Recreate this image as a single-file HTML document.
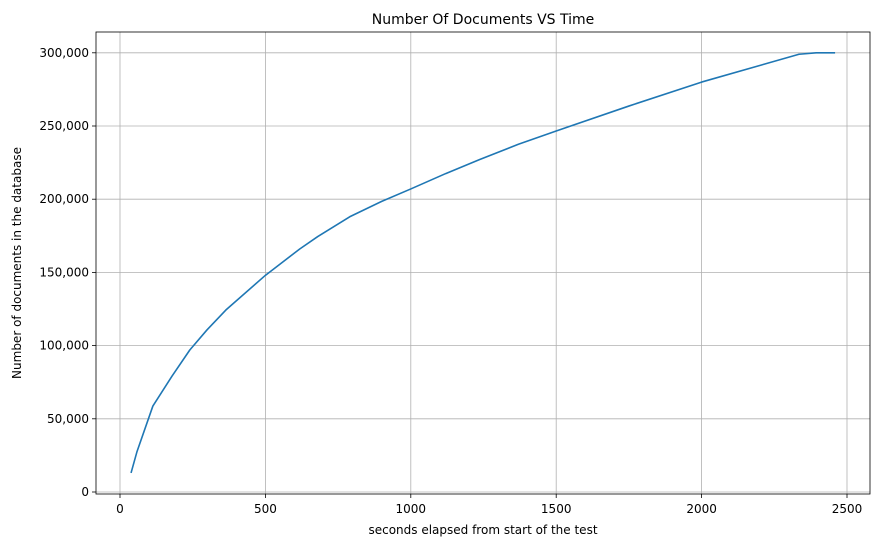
<!DOCTYPE html>
<html><head><meta charset="utf-8"><style>
body{margin:0;background:#fff;font-family:"Liberation Sans","DejaVu Sans",sans-serif;}
svg text{font-family:"DejaVu Sans","Liberation Sans",sans-serif;}
</style></head><body>
<svg id="chart" width="881" height="547" xmlns="http://www.w3.org/2000/svg"></svg>
<script>
const xTicks=[0,500,1000,1500,2000,2500];
const yTicks=[0,50000,100000,150000,200000,250000,300000];
const times=[38,58,113,179,240,299,364,500,618,680,790,900,1000,1120,1236,1370,1500,1751,2000,2335,2394,2459];
const docs=[13000,27300,58700,79200,97000,110700,124300,148000,166000,174500,188000,198500,207000,217500,227000,237500,246600,263700,280000,299000,300000,300000];
const L=96,R=870,T=32,B=494;
function xs(v){return 120+v*(145.4/500);}
function ys(v){return 492-v*(73.2/50000);}
const svg=document.getElementById('chart');
const NS='http://www.w3.org/2000/svg';
function mk(tag,attrs,txt){const e=document.createElementNS(NS,tag);for(const k in attrs)e.setAttribute(k,attrs[k]);if(txt!==undefined)e.textContent=txt;svg.appendChild(e);return e;}
xTicks.forEach(t=>{
 const g=mk('line',{x1:xs(t),x2:xs(t),y1:T,y2:B,stroke:'#b0b0b0','stroke-width':0.8});
 
 
 mk('line',{x1:xs(t),x2:xs(t),y1:B,y2:B+4,stroke:'#000','stroke-width':0.8});
 const l=mk('text',{x:xs(t),y:B+19,'text-anchor':'middle','font-size':12},String(t));
 
 
});
yTicks.forEach(t=>{
 const g=mk('line',{x1:L,x2:R,y1:ys(t),y2:ys(t),stroke:'#b0b0b0','stroke-width':0.8});
 
 
 mk('line',{x1:L-4,x2:L,y1:ys(t),y2:ys(t),stroke:'#000','stroke-width':0.8});
 const l=mk('text',{x:L-7,y:ys(t)+4,'text-anchor':'end','font-size':12},t.toLocaleString('en-US'));
 
 
});
const fr=mk('rect',{x:L,y:T,width:R-L,height:B-T,fill:'none',stroke:'#000','stroke-width':0.8});


const line=mk('polyline',{points:times.map((t,i)=>xs(t)+','+ys(docs[i])).join(' '),fill:'none',stroke:'#1f77b4','stroke-width':1.6,'stroke-linejoin':'round'});


const ti=mk('text',{x:483,y:24,'text-anchor':'middle','font-size':14},'Number Of Documents VS Time');


const xt=mk('text',{x:483,y:534,'text-anchor':'middle','font-size':12},'seconds elapsed from start of the test');


const yt=mk('text',{x:21,y:263,'text-anchor':'middle','font-size':12,transform:'rotate(-90 21 263)'},'Number of documents in the database');


</script>
</body></html>
